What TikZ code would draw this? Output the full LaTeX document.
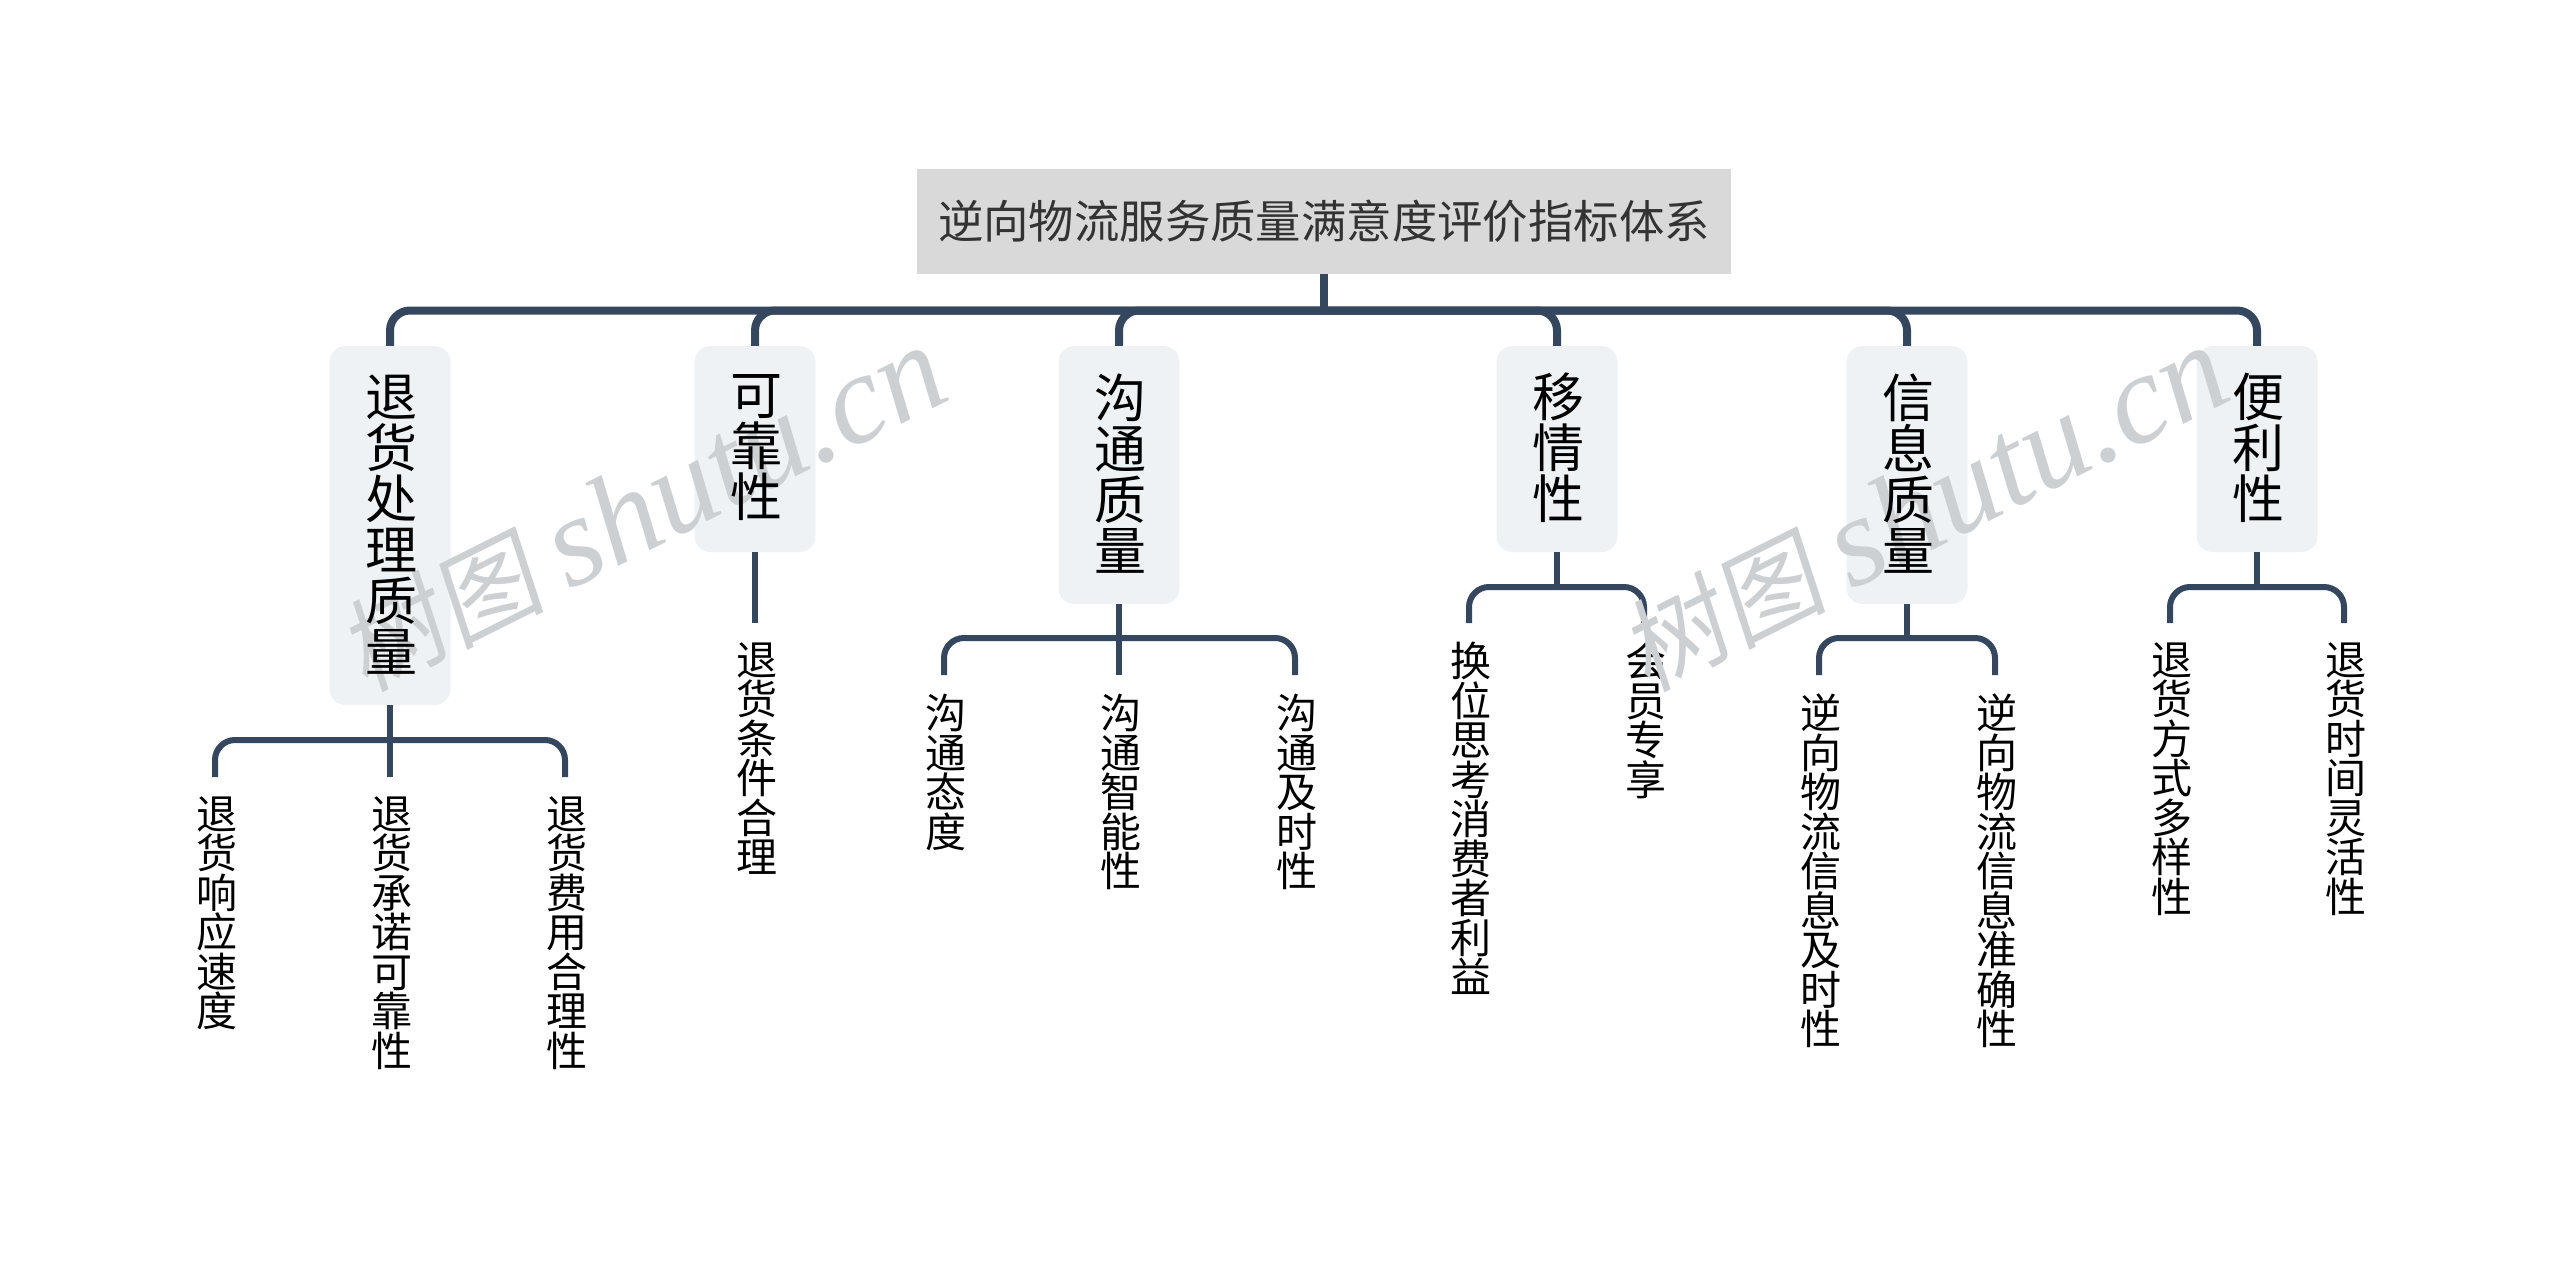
\documentclass[tikz,border=0pt]{standalone}
\usepackage{fontspec}
\setmainfont{Noto Sans CJK SC}
\newfontfamily\wmcjk[FakeSlant=0.15]{Noto Sans CJK SC}
\newfontfamily\wmlat{Liberation Serif Italic}
\definecolor{linec}{HTML}{34475F}
\definecolor{subc}{HTML}{EEF2F5}
\definecolor{rootc}{HTML}{D9D9D9}
\definecolor{wmc}{HTML}{CDD0D2}
\tikzset{
  rootbox/.style={fill=rootc,minimum width=814pt,minimum height=105pt,inner sep=0pt},
  roottext/.style={text=black!80,inner sep=0pt,font=\fontsize{45.4}{45.4}\selectfont},
  subbox/.style={fill=subc,rounded corners=16pt,minimum width=121pt,inner sep=0pt},
  subtext/.style={inner sep=0pt,align=center,text=black,xshift=1.5pt,yshift=1pt,font=\fontsize{52}{51}\selectfont},
  leaf/.style={inner xsep=0pt,inner ysep=19pt,align=center,anchor=north,text=black,xshift=1.5pt,font=\fontsize{41}{39.5}\selectfont},
  busline/.style={draw=linec,line width=8pt},
  wirea/.style={draw=linec,line width=8pt,rounded corners=20pt},
  wireb/.style={draw=linec,line width=6pt,rounded corners=20pt},
  wmark/.style={text=wmc,rotate=26.6,inner sep=0pt,anchor=center},
}
\begin{document}
\begin{tikzpicture}[x=1pt,y=-1pt]
\useasboundingbox (0,0) rectangle (2560,1263);
% boxes
\node[rootbox] (root) at (1324,221.5) {};
\node[subbox,minimum height=359pt] (a) at (390,525.5) {};
\node[subbox,minimum height=206pt] (b) at (755,449) {};
\node[subbox,minimum height=258pt] (c) at (1119,475) {};
\node[subbox,minimum height=206pt] (d) at (1557,449) {};
\node[subbox,minimum height=258pt] (e) at (1907,475) {};
\node[subbox,minimum height=206pt] (f) at (2257,449) {};
% leaves
\node[leaf] (a1) at (215,777) {退\\货\\响\\应\\速\\度};
\node[leaf] (a2) at (390,777) {退\\货\\承\\诺\\可\\靠\\性};
\node[leaf] (a3) at (565,777) {退\\货\\费\\用\\合\\理\\性};
\node[leaf] (b1) at (755,623) {退\\货\\条\\件\\合\\理};
\node[leaf] (c1) at (944,675) {沟\\通\\态\\度};
\node[leaf] (c2) at (1119,675) {沟\\通\\智\\能\\性};
\node[leaf] (c3) at (1295,675) {沟\\通\\及\\时\\性};
\node[leaf] (d1) at (1469,623) {换\\位\\思\\考\\消\\费\\者\\利\\益};
\node[leaf] (d2) at (1644,623) {会\\员\\专\\享};
\node[leaf] (e1) at (1819,675) {逆\\向\\物\\流\\信\\息\\及\\时\\性};
\node[leaf] (e2) at (1995,675) {逆\\向\\物\\流\\信\\息\\准\\确\\性};
\node[leaf] (f1) at (2170,623) {退\\货\\方\\式\\多\\样\\性};
\node[leaf] (f2) at (2344,623) {退\\货\\时\\间\\灵\\活\\性};
% junction coordinates
\coordinate (busj) at (1324,310.5);
\coordinate (ja) at (390,740);
\coordinate (jc) at (1119,638);
\coordinate (jd) at (1557,587);
\coordinate (je) at (1907,638);
\coordinate (jf) at (2257,587);
% top bus
\draw[busline] (root.south) -- (busj);
\foreach \n in {a,b,c,d,e,f} \draw[wirea] (busj) -| (\n.north);
% branches
\draw[wireb] (a.south) -- ([xshift=-1.5pt]a2.north);
\draw[wireb] (ja) -| ([xshift=-1.5pt]a1.north);
\draw[wireb] (ja) -| ([xshift=-1.5pt]a3.north);
\draw[wireb] (b.south) -- ([xshift=-1.5pt]b1.north);
\draw[wireb] (c.south) -- ([xshift=-1.5pt]c2.north);
\draw[wireb] (jc) -| ([xshift=-1.5pt]c1.north);
\draw[wireb] (jc) -| ([xshift=-1.5pt]c3.north);
\draw[wireb] (d.south) -- (jd);
\draw[wireb] (jd) -| ([xshift=-1.5pt]d1.north);
\draw[wireb] (jd) -| ([xshift=-1.5pt]d2.north);
\draw[wireb] (e.south) -- (je);
\draw[wireb] (je) -| ([xshift=-1.5pt]e1.north);
\draw[wireb] (je) -| ([xshift=-1.5pt]e2.north);
\draw[wireb] (f.south) -- (jf);
\draw[wireb] (jf) -| ([xshift=-1.5pt]f1.north);
\draw[wireb] (jf) -| ([xshift=-1.5pt]f2.north);
% watermarks
\node[wmark] (w1) at (642,509) {{\wmcjk\fontsize{102}{102}\selectfont 树图}\hspace{24pt}{\wmlat\fontsize{128}{128}\selectfont shutu.cn}};
\node[wmark] (w2) at (1924,509) {{\wmcjk\fontsize{102}{102}\selectfont 树图}\hspace{24pt}{\wmlat\fontsize{128}{128}\selectfont shutu.cn}};
% texts on top
\node[roottext] (rt) at (root.center) {逆向物流服务质量满意度评价指标体系};
\node[subtext] (ta) at (a.center) {退\\货\\处\\理\\质\\量};
\node[subtext] (tb) at (b.center) {可\\靠\\性};
\node[subtext] (tc) at (c.center) {沟\\通\\质\\量};
\node[subtext] (td) at (d.center) {移\\情\\性};
\node[subtext] (te) at (e.center) {信\\息\\质\\量};
\node[subtext] (tf) at (f.center) {便\\利\\性};
\end{tikzpicture}
\end{document}
